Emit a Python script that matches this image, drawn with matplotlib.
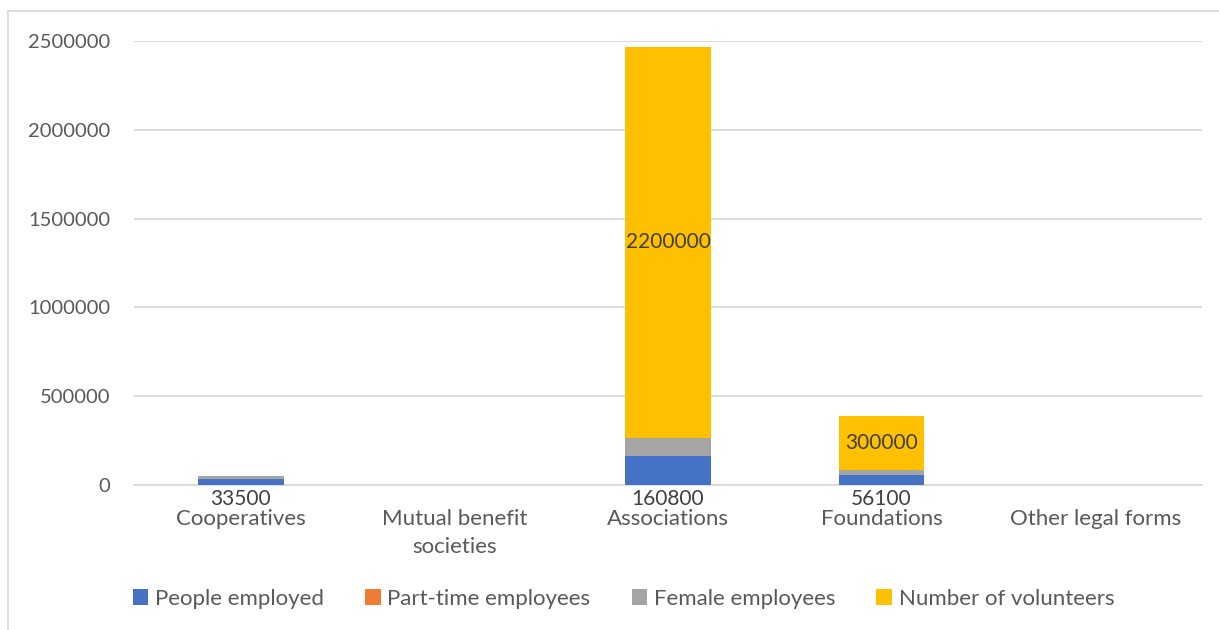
import numpy as np
import matplotlib.pyplot as plt
from matplotlib.patches import Rectangle

categories = ["Cooperatives", "Mutual benefit\nsocieties", "Associations", "Foundations", "Other legal forms"]
series_names = ["People employed", "Part-time employees", "Female employees", "Number of volunteers"]
people_employed = [33500, 0, 160800, 56100, 0]
part_time = [0, 0, 0, 0, 0]
female_employees = [16000, 0, 105000, 30000, 0]
volunteers = [0, 0, 2200000, 300000, 0]
colors = ["#4472C4", "#ED7D31", "#A5A5A5", "#FFC000"]

plt.rcParams["font.family"] = ["Lato", "DejaVu Sans"]
text_color = "#595959"
grid_color = "#D9D9D9"

fig = plt.figure(figsize=(12.19, 6.30), dpi=100)
ax = fig.add_axes([134 / 1219, 1 - 485 / 630, (1202 - 134) / 1219, (485 - 41) / 630])

x = np.arange(len(categories))
width = 0.4
bottom = np.zeros(len(categories))
for name, vals, c in zip(series_names, [people_employed, part_time, female_employees, volunteers], colors):
    ax.bar(x, vals, width, bottom=bottom, color=c, label=name, zorder=3)
    bottom = bottom + np.array(vals)

# data labels: people employed shown under the axis, volunteers centered in segment
for xi, v in zip(x, people_employed):
    if v:
        ax.annotate(str(v), (xi, 0), xytext=(0, -3), textcoords="offset points",
                    ha="center", va="top", fontsize=15, color="#404040")
base = np.array(people_employed) + np.array(part_time) + np.array(female_employees)
for xi, v, b0 in zip(x, volunteers, base):
    if v:
        ax.text(xi, b0 + v / 2, str(v), ha="center", va="center", fontsize=15, color="#404040", zorder=4)

ax.set_xlim(-0.5, len(categories) - 0.5)
ax.set_ylim(0, 2500000)
ax.set_yticks(np.arange(0, 2500001, 500000))
ax.set_yticklabels([str(t) for t in range(0, 2500001, 500000)])
ax.set_xticks(x)
ax.set_xticklabels(categories, linespacing=1.55)
ax.tick_params(axis="y", length=0, pad=17, labelsize=14.5, labelcolor=text_color)
ax.tick_params(axis="x", length=0, pad=17, labelsize=16, labelcolor=text_color)
ax.grid(axis="y", color=grid_color, linewidth=1.3, zorder=0)
for s in ["top", "right", "left"]:
    ax.spines[s].set_visible(False)
ax.spines["bottom"].set_color(grid_color)
ax.spines["bottom"].set_linewidth(1.3)

fig.legend(loc="center", bbox_to_anchor=(0.5115, 1 - 599 / 630), ncol=4, frameon=False,
           handlelength=0.7, handleheight=0.7, handletextpad=0.3, columnspacing=1.85,
           fontsize=16, labelcolor=text_color)

fig.patches.append(Rectangle((8 / 1219, -0.1), 1.2, 1 - 11 / 630 + 0.1, transform=fig.transFigure,
                             fill=False, edgecolor=grid_color, linewidth=1.3))

fig.savefig("out.png", dpi=100)
